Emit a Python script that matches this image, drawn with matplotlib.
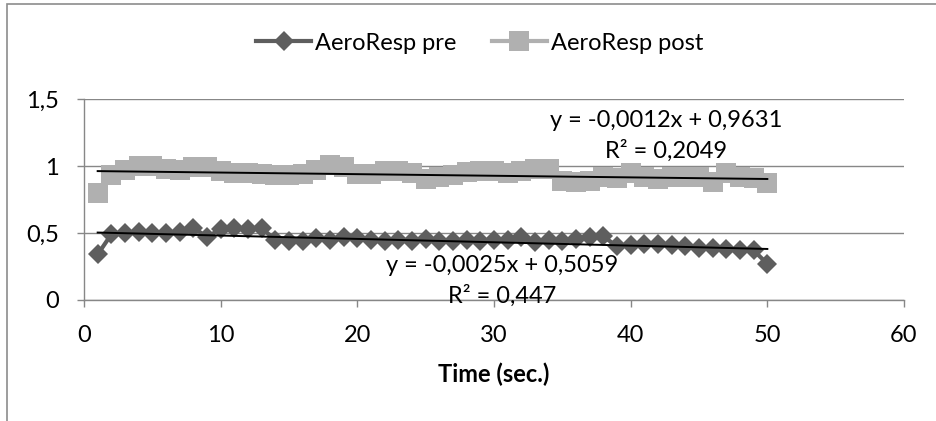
import numpy as np
import matplotlib
matplotlib.use('Agg')
import matplotlib.pyplot as plt
from matplotlib.patches import Rectangle
from matplotlib.ticker import FuncFormatter

plt.rcParams['font.family'] = ['Lato', 'DejaVu Sans']

# data
time = np.arange(1, 51)
pre = [0.34, 0.49, 0.50, 0.51, 0.50, 0.50, 0.51, 0.54, 0.47, 0.53,
       0.535, 0.53, 0.535, 0.45, 0.44, 0.44, 0.46, 0.45, 0.47, 0.46,
       0.45, 0.44, 0.45, 0.44, 0.455, 0.44, 0.44, 0.45, 0.44, 0.45,
       0.45, 0.47, 0.43, 0.45, 0.44, 0.455, 0.47, 0.475, 0.40, 0.41,
       0.42, 0.42, 0.41, 0.40, 0.39, 0.39, 0.38, 0.37, 0.37, 0.27]
post = [0.80, 0.93, 0.97, 1.00, 1.00, 0.98, 0.97, 0.99, 0.99, 0.96,
        0.95, 0.95, 0.94, 0.93, 0.93, 0.94, 0.97, 1.01, 0.99, 0.94,
        0.94, 0.965, 0.96, 0.95, 0.90, 0.92, 0.93, 0.955, 0.96, 0.96,
        0.95, 0.96, 0.975, 0.975, 0.89, 0.88, 0.89, 0.92, 0.91, 0.95,
        0.92, 0.90, 0.915, 0.92, 0.92, 0.88, 0.945, 0.92, 0.91, 0.875]

# trend lines as printed on the chart
pre_fit = (-0.0025, 0.5059)
post_fit = (-0.0012, 0.9631)
pre_eq = ['y = -0,0025x + 0,5059', 'R² = 0,447']
post_eq = ['y = -0,0012x + 0,9631', 'R² = 0,2049']

xticks = [0, 10, 20, 30, 40, 50, 60]
yticks = [0, 0.5, 1, 1.5]

pre_col = '#5e5e5e'
post_col = '#b0b0b0'
grid_col = '#878787'
fs = 17

fig = plt.figure(figsize=(9.37, 4.21), dpi=100)
ax = fig.add_axes([84 / 937, 1 - 300 / 421, 820 / 937, 201 / 421])

l1, = ax.plot(time, pre, color=pre_col, lw=3, marker='D', ms=10, mew=0,
              label='AeroResp pre', zorder=3)
l2, = ax.plot(time, post, color=post_col, lw=3, marker='s', ms=14, mew=0,
              label='AeroResp post', zorder=3)

ends = time[[0, -1]]
ax.plot(ends, pre_fit[0] * ends + pre_fit[1], color='black', lw=1.4, zorder=4)
ax.plot(ends, post_fit[0] * ends + post_fit[1], color='black', lw=1.4, zorder=4)

ax.text(42.6, 1.34, post_eq[0], ha='center', va='center', fontsize=fs)
ax.text(42.6, 1.115, post_eq[1], ha='center', va='center', fontsize=fs)
ax.text(30.6, 0.255, pre_eq[0], ha='center', va='center', fontsize=fs)
ax.text(30.6, 0.03, pre_eq[1], ha='center', va='center', fontsize=fs)

ax.set_xlim(0, 60)
ax.set_ylim(0, 1.5)
ax.set_xticks(xticks)
ax.set_yticks(yticks)
ax.yaxis.set_major_formatter(FuncFormatter(lambda v, p: ('%g' % v).replace('.', ',')))
ax.tick_params(axis='both', labelsize=fs, color=grid_col, length=5, width=1)
ax.tick_params(axis='x', pad=13)
ax.tick_params(axis='y', pad=13)
ax.grid(axis='y', color=grid_col, lw=1)
ax.set_axisbelow(True)
for s in ['top', 'right']:
    ax.spines[s].set_visible(False)
for s in ['left', 'bottom']:
    ax.spines[s].set_color(grid_col)
    ax.spines[s].set_linewidth(1)

ax.set_xlabel('Time (sec.)', fontsize=fs, fontweight='bold', labelpad=12)

fig.legend(handles=[l1, l2], loc='center', bbox_to_anchor=(480 / 937, 1 - 43 / 421),
           ncol=2, frameon=False, fontsize=fs, handlelength=2.3,
           handletextpad=0.2, columnspacing=1.5)

# chart area border (right and bottom edges are cut off)
fig.patches.append(Rectangle((7 / 937, -0.1), 1.2, 1.1 - 4.3 / 421,
                             transform=fig.transFigure, fill=False,
                             edgecolor='#8c8c8c', lw=1.2))

fig.savefig('out.png', dpi=100)
